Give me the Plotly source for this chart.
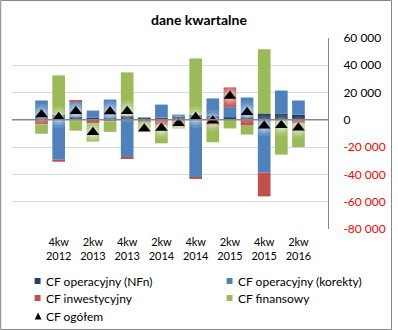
import plotly.graph_objects as go

# Quarterly cash-flow components (PLN thousands)
quarters = ["3kw 2012", "4kw 2012", "1kw 2013", "2kw 2013", "3kw 2013", "4kw 2013",
            "1kw 2014", "2kw 2014", "3kw 2014", "4kw 2014", "1kw 2015", "2kw 2015",
            "3kw 2015", "4kw 2015", "1kw 2016", "2kw 2016"]
cf_nfn = [2000, 4000, 2200, 1700, 1000, 3200, 1700, 1700, 2500, 3900, 3000, 2000, 2000, 4700, 4700, 3900]
cf_korekty = [12200, -29200, 11300, 5100, 13900, -27700, -1000, 9500, 1400, -41900, 12700, 7300, 14400, -38700, 16800, 10300]
cf_inwest = [-3200, -1500, 700, -2450, -1000, -700, -300, -4200, -4200, -1200, -4200, 14500, -4200, -17400, 0, -2400]
cf_finans = [-7000, 28600, -7900, -13500, -7800, 31600, -7000, -13000, -2200, 41100, -12200, -6300, -6600, 47100, -25500, -17600]
cf_total = [4000, 1900, 6300, -9150, 6100, 6400, -6600, -6000, -2500, 1900, -700, 17500, 5600, -4300, -4000, -5800]

# Only every second quarter carries a label
label_quarters = quarters[1::2]
label_text = ["4kw<br>2012", "2kw<br>2013", "4kw<br>2013", "2kw<br>2014",
              "4kw<br>2014", "2kw<br>2015", "4kw<br>2015", "2kw<br>2016"]

y_ticks = [60000, 40000, 20000, 0, -20000, -40000, -60000, -80000]

series_names = ["CF operacyjny (NFn)", "CF operacyjny (korekty)", "CF inwestycyjny", "CF finansowy", "CF ogółem"]
series_colors = ["#253F62", "#4F81BD", "#C0504D", "#9BBB59", "#000000"]

FONT = "Lato"
W, H = 398, 330
L, R, T, B = 12, 65, 38, 101
PW, PH = W - L - R, H - T - B


def fmt(v):
    s = f"{abs(v):,}".replace(",", " ")
    if v < 0:
        return f'<span style="color:#FF0000">-{s}</span>'
    return s


def px_x(px):
    return (px - L) / PW


def px_y(py):
    return (H - B - py) / PH


fig = go.Figure()
for vals, name, col in zip([cf_nfn, cf_korekty, cf_inwest, cf_finans], series_names[:4], series_colors[:4]):
    fig.add_trace(go.Bar(x=quarters, y=vals, name=name, marker=dict(color=col, line=dict(width=0)),
                         showlegend=False))

# soft white glow behind the total markers
for size, op in [(22, 0.12), (16, 0.2), (11, 0.3)]:
    fig.add_trace(go.Scatter(x=quarters, y=cf_total, mode="markers", showlegend=False,
                             marker=dict(symbol="circle", size=size, color="white", opacity=op,
                                         line=dict(width=0)),
                             hoverinfo="skip"))
fig.add_trace(go.Scatter(x=quarters, y=cf_total, mode="markers", name=series_names[4],
                         showlegend=False,
                         marker=dict(symbol="triangle-up", size=11, color="black", line=dict(width=0))))

shapes = []
annotations = []

# horizontal axis line drawn over the bars
shapes.append(dict(type="line", xref="paper", yref="y", x0=0, x1=1, y0=0, y1=0,
                   line=dict(color="#868686", width=1.5), layer="above"))

# outer chart border
shapes.append(dict(type="rect", xref="paper", yref="paper",
                   x0=px_x(0.5), x1=px_x(W - 0.5), y0=px_y(H - 0.5), y1=px_y(0.5),
                   line=dict(color="#868686", width=1), fillcolor="rgba(0,0,0,0)", layer="below"))

# legend drawn as two columns
legend_pos = [(35, 281), (230, 281), (35, 298), (230, 298), (35, 316)]
for (lx, ly), name, col in zip(legend_pos, series_names, series_colors):
    if name == series_names[4]:
        shapes.append(dict(type="path", xref="paper", yref="paper",
                           path=f"M {px_x(lx)},{px_y(ly + 3.5)} L {px_x(lx + 7)},{px_y(ly + 3.5)} "
                                f"L {px_x(lx + 3.5)},{px_y(ly - 3.5)} Z",
                           fillcolor="black", line=dict(width=0)))
    else:
        shapes.append(dict(type="rect", xref="paper", yref="paper",
                           x0=px_x(lx), x1=px_x(lx + 6), y0=px_y(ly + 3), y1=px_y(ly - 3),
                           fillcolor=col, line=dict(width=0)))
    annotations.append(dict(xref="paper", yref="paper", x=px_x(lx + 10), y=px_y(ly),
                            xanchor="left", yanchor="middle", text=name, showarrow=False,
                            font=dict(family=FONT, size=12, color="#000000")))

fig.update_layout(
    width=W, height=H,
    margin=dict(l=L, r=R, t=T, b=B, pad=0),
    paper_bgcolor="white", plot_bgcolor="white",
    barmode="relative", bargap=0.26,
    title=dict(text="<b>dane kwartalne</b>", x=0.5, xref="container", xanchor="center",
               y=1 - 20 / H, yanchor="middle", font=dict(family=FONT, size=14, color="#000000")),
    xaxis=dict(type="category", categoryorder="array", categoryarray=quarters,
               tickmode="array", tickvals=label_quarters, ticktext=label_text,
               showgrid=False, showline=False, zeroline=False, ticks="",
               tickfont=dict(family=FONT, size=11, color="#000000"), ticklabelstandoff=5,
               fixedrange=True),
    yaxis=dict(side="right", range=[-80000, 60000], tickmode="array", tickvals=y_ticks,
               ticktext=[fmt(v) for v in y_ticks], showgrid=True, gridcolor="#D9D9D9", gridwidth=1,
               zeroline=False,
               showline=True, linecolor="#868686", linewidth=1, ticks="",
               ticklabelstandoff=12,
               tickfont=dict(family=FONT, size=12, color="#000000"), fixedrange=True),
    shapes=shapes,
    annotations=annotations,
    showlegend=False,
)

fig.write_html("out.html")
